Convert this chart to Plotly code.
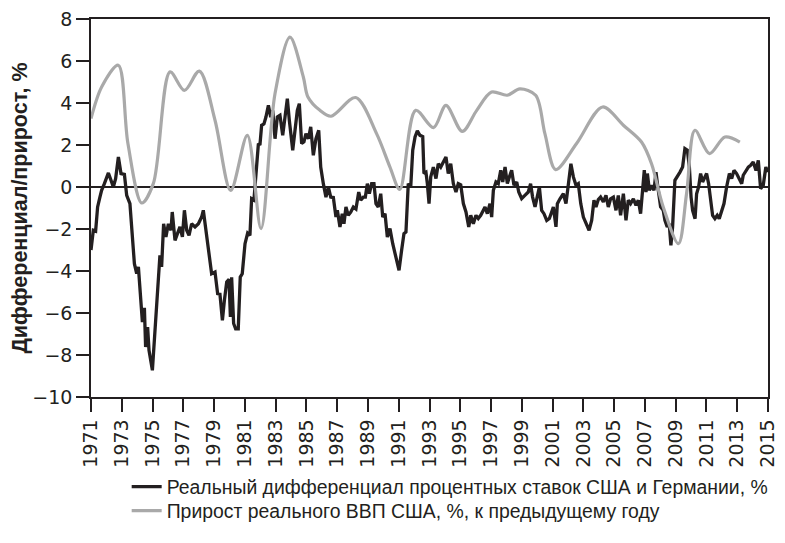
import plotly.graph_objects as go

# Real interest-rate differential USA vs Germany, % (black)
diff_years = [
    1971.00, 1971.15, 1971.30, 1971.43, 1971.58, 1971.69, 1971.87, 1972.13, 1972.30, 1972.45,
    1972.60, 1972.78, 1972.95, 1973.17, 1973.32, 1973.53, 1973.82, 1973.97, 1974.08, 1974.25,
    1974.34, 1974.47, 1974.55, 1974.68, 1974.77, 1974.99, 1975.16, 1975.33, 1975.48, 1975.59,
    1975.72, 1975.87, 1976.03, 1976.20, 1976.28, 1976.46, 1976.63, 1976.78, 1976.94, 1977.07,
    1977.22, 1977.37, 1977.54, 1977.76, 1977.98, 1978.19, 1978.30, 1978.45, 1978.67, 1978.84,
    1979.06, 1979.23, 1979.38, 1979.54, 1979.67, 1979.82, 1979.97, 1980.06, 1980.14, 1980.27,
    1980.40, 1980.57, 1980.70, 1980.83, 1981.01, 1981.18, 1981.33, 1981.44, 1981.59, 1981.77,
    1981.88, 1981.98, 1982.09, 1982.24, 1982.37, 1982.53, 1982.68, 1982.81, 1982.96, 1983.11,
    1983.28, 1983.46, 1983.61, 1983.76, 1983.89, 1984.11, 1984.26, 1984.41, 1984.54, 1984.69,
    1984.84, 1984.97, 1985.13, 1985.28, 1985.45, 1985.62, 1985.80, 1985.93, 1986.10, 1986.27,
    1986.43, 1986.58, 1986.75, 1986.92, 1987.01, 1987.18, 1987.33, 1987.44, 1987.57, 1987.72,
    1987.88, 1988.05, 1988.22, 1988.40, 1988.53, 1988.70, 1988.83, 1988.96, 1989.09, 1989.24,
    1989.39, 1989.52, 1989.67, 1989.83, 1989.96, 1990.11, 1990.26, 1990.43, 1990.61, 1990.76,
    1991.02, 1991.19, 1991.34, 1991.47, 1991.62, 1991.78, 1991.91, 1992.06, 1992.21, 1992.38,
    1992.56, 1992.64, 1992.77, 1992.86, 1992.97, 1993.08, 1993.25, 1993.42, 1993.57, 1993.73,
    1993.90, 1994.07, 1994.22, 1994.38, 1994.55, 1994.72, 1994.87, 1995.03, 1995.20, 1995.37,
    1995.55, 1995.68, 1995.85, 1996.02, 1996.17, 1996.33, 1996.50, 1996.61, 1996.76, 1996.93,
    1997.04, 1997.15, 1997.32, 1997.47, 1997.63, 1997.76, 1997.91, 1998.06, 1998.19, 1998.34,
    1998.49, 1998.67, 1998.80, 1998.99, 1999.20, 1999.42, 1999.57, 1999.70, 1999.86, 2000.01,
    2000.14, 2000.29, 2000.44, 2000.62, 2000.79, 2000.94, 2001.05, 2001.22, 2001.31, 2001.48,
    2001.70, 2001.87, 2002.02, 2002.19, 2002.35, 2002.52, 2002.67, 2002.83, 2003.00, 2003.17,
    2003.37, 2003.54, 2003.69, 2003.82, 2003.97, 2004.12, 2004.30, 2004.47, 2004.62, 2004.77,
    2004.95, 2005.12, 2005.27, 2005.42, 2005.60, 2005.77, 2005.92, 2006.07, 2006.25, 2006.42,
    2006.57, 2006.72, 2006.85, 2006.96, 2007.07, 2007.16, 2007.29, 2007.44, 2007.59, 2007.72,
    2007.87, 2008.02, 2008.19, 2008.30, 2008.45, 2008.58, 2008.69, 2008.80, 2008.95, 2009.11,
    2009.28, 2009.45, 2009.60, 2009.76, 2009.89, 2010.00, 2010.10, 2010.26, 2010.36, 2010.49,
    2010.62, 2010.75, 2010.91, 2011.01, 2011.14, 2011.27, 2011.40, 2011.55, 2011.70, 2011.83,
    2011.99, 2012.14, 2012.31, 2012.49, 2012.64, 2012.79, 2012.96, 2013.14, 2013.29, 2013.39,
    2013.57, 2013.72, 2013.87, 2014.04, 2014.22, 2014.37, 2014.52, 2014.69, 2014.86, 2015.00,
]
diff_values = [
    -3.00, -2.06, -2.10, -0.95, -0.48, -0.16, 0.16, 0.67, 0.32, 0.00,
    0.40, 1.43, 0.64, 0.60, -0.40, -0.79, -3.65, -4.13, -3.80, -5.55,
    -6.43, -5.75, -7.62, -6.67, -7.78, -8.73, -6.67, -4.60, -3.25, -3.80,
    -1.75, -2.38, -1.75, -2.06, -1.19, -2.54, -2.22, -1.90, -2.38, -1.11,
    -2.06, -2.30, -1.75, -1.90, -1.75, -1.43, -1.11, -1.90, -3.00, -4.13,
    -4.05, -5.08, -5.10, -6.35, -5.40, -4.52, -4.40, -6.19, -4.30, -6.50,
    -6.75, -6.75, -4.29, -4.13, -2.70, -2.20, -2.30, -0.55, -0.62, 1.11,
    2.07, 2.00, 2.94, 3.00, 3.33, 3.89, 3.33, 3.65, 2.30, 3.33,
    3.41, 2.46, 3.41, 4.21, 3.17, 1.75, 2.70, 3.65, 3.97, 2.07,
    2.15, 2.54, 2.30, 2.86, 1.51, 2.30, 2.70, 0.95, 0.16, -0.48,
    0.00, -0.48, -0.50, -1.43, -1.11, -1.90, -1.27, -1.75, -0.95, -1.35,
    -1.20, -0.95, -1.05, -0.24, -0.63, -0.48, -0.48, 0.16, -0.32, 0.16,
    0.16, -0.79, -0.95, -0.32, -1.43, -1.27, -2.38, -1.98, -2.70, -3.17,
    -3.97, -3.00, -2.22, -2.14, 0.16, 0.00, 1.75, 2.38, 2.67, 2.46,
    2.40, 0.64, 0.70, 0.16, -0.79, 0.48, 0.95, 0.40, 1.11, 0.95,
    1.19, 1.43, 0.64, 1.11, 0.16, -0.24, 0.16, 0.10, -0.79, -1.19,
    -1.90, -1.35, -1.75, -1.35, -1.50, -1.35, -1.11, -0.95, -1.27, -0.79,
    -1.43, -0.16, 0.24, 0.16, 0.80, 0.24, 0.95, 0.16, 0.48, 0.80,
    0.08, 0.24, -0.24, -0.55, -0.40, -0.24, 0.16, -0.48, -0.95, -0.32,
    0.00, -1.11, -1.27, -1.59, -1.50, -1.19, -0.95, -1.90, -0.79, -0.56,
    -0.32, -0.79, 0.16, 1.11, 0.48, 0.08, 0.16, -0.79, -1.43, -1.75,
    -2.06, -1.59, -0.63, -0.95, -0.60, -0.48, -0.71, -0.40, -0.95, -0.56,
    -0.48, -1.11, -0.40, -1.35, -0.32, -1.59, -0.63, -0.79, -0.56, -0.87,
    -0.63, -1.27, -0.16, 0.80, -0.24, 0.64, -0.16, 0.08, -0.16, 0.71,
    -0.16, -0.95, -1.11, -1.59, -1.90, -1.75, -2.78, -1.90, 0.32, 0.48,
    0.71, 0.95, 1.83, 1.75, 0.95, -0.48, -1.11, -1.51, -0.32, 0.00,
    0.64, 0.24, 0.48, 0.64, 0.16, -0.48, -1.35, -1.51, -1.35, -1.51,
    -1.11, -0.79, 0.00, 0.64, 0.40, 0.79, 0.64, 0.40, 0.16, 0.56,
    0.80, 0.95, 1.03, 1.19, 0.79, 1.27, -0.08, 0.08, 0.95, 0.71,
]

# Real GDP growth USA, % y/y (grey)
gdp_years = [
    1971.00, 1971.69, 1972.77, 1973.40, 1974.30, 1975.05, 1976.14, 1977.07, 1978.04, 1979.06,
    1980.08, 1981.16, 1982.05, 1982.96, 1983.93, 1984.80, 1985.10, 1985.88, 1986.60, 1988.20,
    1989.56, 1990.43, 1991.07, 1992.10, 1993.26, 1994.07, 1995.13, 1996.07, 1997.03, 1998.05,
    1998.87, 1999.90, 2000.50, 2001.20, 2002.56, 2004.25, 2005.60, 2006.78, 2007.43, 2008.19,
    2009.18, 2009.71, 2010.25, 2011.20, 2012.20, 2013.17,
]
gdp_values = [
    3.26, 4.76, 5.80, 2.07, -0.76, 0.16, 5.48, 4.60, 5.52, 3.18,
    -0.16, 2.46, -1.98, 4.45, 7.14, 5.24, 4.29, 3.65, 3.37, 4.26,
    2.54, 0.95, -0.11, 3.65, 2.83, 3.89, 2.65, 3.65, 4.52, 4.37,
    4.67, 4.37, 2.54, 0.83, 2.07, 3.81, 2.94, 2.14, 1.11, -0.95,
    -2.70, -0.30, 2.70, 1.59, 2.38, 2.14,
]

x_tick_vals = list(range(1971, 2016, 2))
x_tick_text = [str(v) for v in x_tick_vals]

name_diff = "Реальный дифференциал процентных ставок США и Германии, %"
name_gdp = "Прирост реального ВВП США, %, к предыдущему году"

fig = go.Figure()
fig.add_trace(go.Scatter(
    x=diff_years, y=diff_values, mode="lines", name=name_diff,
    line=dict(color="#231f20", width=3.3), legend="legend",
))
fig.add_trace(go.Scatter(
    x=gdp_years, y=gdp_values, mode="lines", name=name_gdp,
    line=dict(color="#a9a9a9", width=3.2, shape="spline", smoothing=0.9),
    legend="legend2",
))

legend_font = dict(family="Liberation Sans", size=19.4, color="#231f20")

fig.update_layout(
    width=777, height=535,
    margin=dict(l=83, r=17, t=11, b=146, autoexpand=False),
    paper_bgcolor="white", plot_bgcolor="white",
    font=dict(family="DejaVu Sans", size=19, color="#231f20"),
    showlegend=True,
    legend=dict(
        orientation="v", x=0.0527, y=-0.1865, xanchor="left", yanchor="top",
        font=legend_font, bgcolor="rgba(0,0,0,0)",
    ),
    legend2=dict(
        orientation="v", x=0.0527, y=-0.25, xanchor="left", yanchor="top",
        font=legend_font, bgcolor="rgba(0,0,0,0)",
    ),
    xaxis=dict(
        range=[1971, 2015], tickmode="array", tickvals=x_tick_vals, ticktext=x_tick_text,
        tickangle=-90, ticks="outside", ticklen=13, tickwidth=1.5, tickcolor="#231f20",
        showline=True, linecolor="#231f20", linewidth=1.5, mirror=True,
        showgrid=False, zeroline=False, automargin=False, ticklabeloverflow="allow",
        tickfont=dict(family="DejaVu Sans", size=19),
    ),
    yaxis=dict(
        range=[-10, 8], dtick=2, tick0=0,
        ticks="outside", ticklen=13, tickwidth=1.5, tickcolor="#231f20",
        showline=True, linecolor="#231f20", linewidth=1.5, mirror=True,
        showgrid=False, zeroline=True, zerolinecolor="#231f20", zerolinewidth=1.5,
        automargin=False, ticklabeloverflow="allow",
        tickfont=dict(family="DejaVu Sans", size=19),
        title=dict(text="<b>Дифференциал/прирост, %</b>",
                   font=dict(family="Liberation Sans", size=21.5), standoff=8),
    ),
)

fig.write_html("out.html")
